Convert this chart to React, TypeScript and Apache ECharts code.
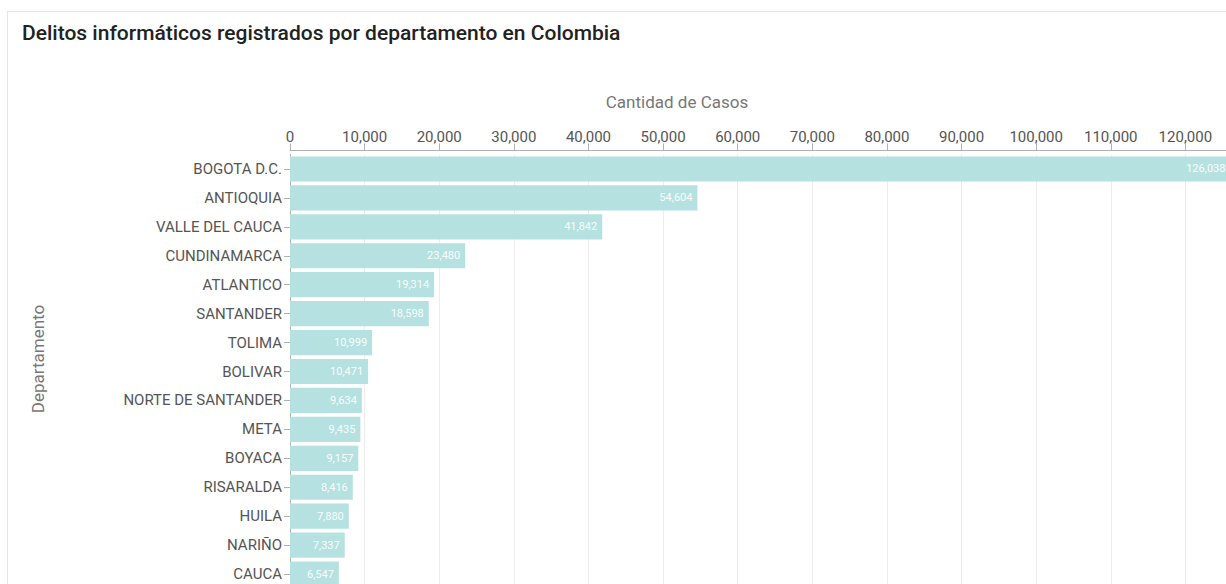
import React, { useEffect, useRef } from "react";
import * as echarts from "echarts";

const departamentos = [
  "BOGOTA D.C.",
  "ANTIOQUIA",
  "VALLE DEL CAUCA",
  "CUNDINAMARCA",
  "ATLANTICO",
  "SANTANDER",
  "TOLIMA",
  "BOLIVAR",
  "NORTE DE SANTANDER",
  "META",
  "BOYACA",
  "RISARALDA",
  "HUILA",
  "NARIÑO",
  "CAUCA",
];

const casos = [
  126038, 54604, 41842, 23480, 19314, 18598, 10999, 10471, 9634, 9435, 9157,
  8416, 7880, 7337, 6547,
];

const titulo = "Delitos informáticos registrados por departamento en Colombia";
const ejeX = "Cantidad de Casos";
const ejeY = "Departamento";

const FONT = "Roboto, 'Noto Sans', sans-serif";

export default function App() {
  const ref = useRef<HTMLDivElement>(null);

  useEffect(() => {
    if (!ref.current) return;
    const chart = echarts.init(ref.current, undefined, { renderer: "svg" });
    chart.setOption({
      animation: false,
      textStyle: { fontFamily: FONT },
      grid: { left: 290, top: 154.5, width: 970, height: 434 },
      xAxis: {
        type: "value",
        position: "top",
        offset: 4,
        min: 0,
        max: 130000,
        interval: 10000,
        axisLine: { show: true, lineStyle: { color: "#b0b0b0", width: 1 } },
        axisTick: { show: true, length: 7, lineStyle: { color: "#b0b0b0" } },
        axisLabel: {
          color: "#555",
          fontSize: 15,
          fontFamily: FONT,
          margin: 6,
          formatter: (v: number) => v.toLocaleString("en-US"),
        },
        splitLine: { show: true, lineStyle: { color: "#ececec", width: 1 } },
      },
      yAxis: {
        type: "category",
        inverse: true,
        data: departamentos,
        axisLine: { show: true, lineStyle: { color: "#b0b0b0", width: 1 } },
        axisTick: { show: true, length: 6, alignWithLabel: true, lineStyle: { color: "#b0b0b0" } },
        axisLabel: { color: "#555", fontSize: 15, fontFamily: FONT, margin: 8 },
      },
      series: [
        {
          type: "bar",
          data: casos,
          barCategoryGap: "13%",
          itemStyle: { color: "#b5e2e0" },
          label: {
            show: true,
            position: "insideRight",
            distance: 5,
            color: "rgba(255,255,255,0.95)",
            fontSize: 11,
            fontFamily: FONT,
            formatter: (p: any) => Number(p.value).toLocaleString("en-US"),
          },
        },
      ],
      graphic: [
        {
          type: "text",
          left: 22,
          top: 22,
          style: {
            text: titulo,
            fill: "#222",
            font: `500 21px ${FONT}`,
          },
        },
        {
          type: "text",
          x: 677,
          y: 102,
          style: {
            text: ejeX,
            fill: "#777",
            font: `17px ${FONT}`,
            textAlign: "center",
            textVerticalAlign: "middle",
          },
        },
        {
          type: "text",
          x: 38,
          y: 359,
          rotation: Math.PI / 2,
          style: {
            text: ejeY,
            fill: "#777",
            font: `17px ${FONT}`,
            textAlign: "center",
            textVerticalAlign: "middle",
          },
        },
      ],
    });
    return () => chart.dispose();
  }, []);

  return (
    <div
      style={{
        position: "fixed",
        left: 0,
        top: 0,
        width: 1226,
        height: 584,
        overflow: "hidden",
        background: "#fff",
      }}
    >
      <div
        style={{
          position: "absolute",
          left: 7,
          top: 11,
          width: 1600,
          height: 800,
          border: "1px solid #e6e6e6",
          boxSizing: "border-box",
        }}
      />
      <div
        ref={ref}
        style={{ position: "absolute", left: 0, top: 0, width: 1400, height: 700 }}
      />
    </div>
  );
}
